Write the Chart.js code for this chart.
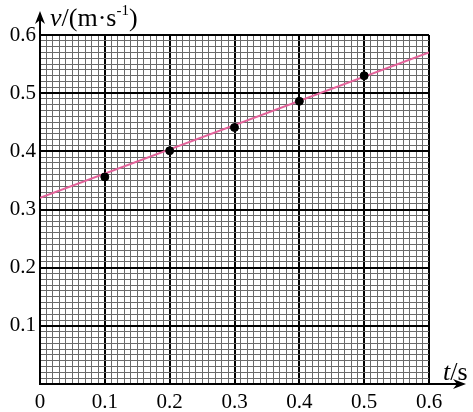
<!DOCTYPE html>
<html>
<head>
<meta charset="utf-8">
<script src="https://cdn.jsdelivr.net/npm/chart.js@4/dist/chart.umd.min.js"></script>
<style>
  html, body { margin: 0; padding: 0; background: #fff; }
  #wrap { width: 473px; height: 412px; }
</style>
</head>
<body>
<div id="wrap"><canvas id="vtChart"></canvas></div>
<script>
// measured points, t in s, v in m/s
const times = [0.1, 0.2, 0.3, 0.4, 0.5];
const speeds = [0.356, 0.401, 0.441, 0.486, 0.530];
// fitted straight line drawn on the plot
const fitT = [0, 0.6];
const fitV = [0.32, 0.57];
// labelled ticks
const xTicks = ["0", "0.1", "0.2", "0.3", "0.4", "0.5", "0.6"];
const yTicks = ["", "0.1", "0.2", "0.3", "0.4", "0.5", "0.6"];

const serif = "'Times New Roman', 'Liberation Serif', Times, serif";

const isMajor = (v) => Math.round(v * 100) % 10 === 0;
const gridColor = (c) => (isMajor(c.tick.value) ? "#000" : "#6a6a6a");
const gridWidth = (c) => (isMajor(c.tick.value) ? 2 : 1);

// axis arrows + axis titles
const axisDecor = {
  id: "axisDecor",
  afterDraw(chart) {
    const { ctx, chartArea: a } = chart;
    ctx.save();
    ctx.strokeStyle = "#000";
    ctx.fillStyle = "#000";
    ctx.lineWidth = 2;
    // y arrow
    ctx.beginPath();
    ctx.moveTo(a.left, a.top);
    ctx.lineTo(a.left, 18);
    ctx.stroke();
    ctx.beginPath();
    ctx.moveTo(a.left, 11);
    ctx.lineTo(a.left - 5, 24);
    ctx.lineTo(a.left, 20);
    ctx.lineTo(a.left + 5, 24);
    ctx.closePath();
    ctx.fill();
    // x arrow
    ctx.beginPath();
    ctx.moveTo(a.right, a.bottom);
    ctx.lineTo(458, a.bottom);
    ctx.stroke();
    ctx.beginPath();
    ctx.moveTo(466, a.bottom);
    ctx.lineTo(453, a.bottom - 5);
    ctx.lineTo(457, a.bottom);
    ctx.lineTo(453, a.bottom + 5);
    ctx.closePath();
    ctx.fill();

    // y title: v/(m·s-1)
    ctx.textBaseline = "alphabetic";
    ctx.textAlign = "left";
    let x = 50;
    const yb = 26;
    ctx.font = "italic 26px " + serif;
    ctx.fillText("v", x, yb);
    x += ctx.measureText("v").width;
    ctx.font = "26px " + serif;
    ctx.fillText("/(m·s", x, yb);
    x += ctx.measureText("/(m·s").width;
    ctx.font = "15px " + serif;
    ctx.fillText("-1", x, yb - 11);
    x += ctx.measureText("-1").width;
    ctx.font = "26px " + serif;
    ctx.fillText(")", x, yb);

    // x title: t/s
    x = 443;
    const xb = 380;
    ctx.font = "italic 26px " + serif;
    ctx.fillText("t", x, xb);
    x += ctx.measureText("t").width;
    ctx.font = "26px " + serif;
    ctx.fillText("/s", x, xb);
    ctx.restore();
  }
};

const data = {
  datasets: [
    {
      label: "fit",
      data: fitT.map((t, i) => ({ x: t, y: fitV[i] })),
      showLine: true,
      borderColor: "#e3629a",
      borderWidth: 2,
      pointRadius: 0,
      order: 2,
    },
    {
      label: "v",
      data: times.map((t, i) => ({ x: t, y: speeds[i] })),
      backgroundColor: "#000",
      borderColor: "#000",
      pointRadius: 4,
      order: 1,
    },
  ],
};

const config = {
  type: "scatter",
  data: data,
  plugins: [axisDecor],
  options: {
    responsive: true,
    maintainAspectRatio: false,
    animation: false,
    layout: { padding: { top: 35, right: 44, left: 0, bottom: 0 } },
    plugins: { legend: false, tooltip: { enabled: false } },
    scales: {
      x: {
        type: "linear",
        min: 0,
        max: 0.6,
        afterFit: (s) => { s.height = 28; },
        border: { display: true, color: "#000", width: 2 },
        grid: { color: gridColor, lineWidth: gridWidth, drawTicks: false },
        ticks: {
          stepSize: 0.01,
          autoSkip: false,
          maxRotation: 0,
          padding: 6,
          color: "#000",
          font: { family: serif, size: 21 },
          callback: (v) => (isMajor(v) ? xTicks[Math.round(v * 10)] : ""),
        },
      },
      y: {
        type: "linear",
        min: 0,
        max: 0.6,
        afterFit: (s) => { s.width = 40; },
        border: { display: true, color: "#000", width: 2 },
        grid: { color: gridColor, lineWidth: gridWidth, drawTicks: false },
        ticks: {
          stepSize: 0.01,
          autoSkip: false,
          padding: 4,
          color: "#000",
          font: { family: serif, size: 21 },
          callback: (v) => (isMajor(v) ? yTicks[Math.round(v * 10)] : ""),
        },
      },
    },
  },
};

let vtChart;
const cntx = document.getElementById("vtChart").getContext("2d");
if (vtChart) vtChart.destroy();
vtChart = new Chart(cntx, config);
</script>
</body>
</html>
